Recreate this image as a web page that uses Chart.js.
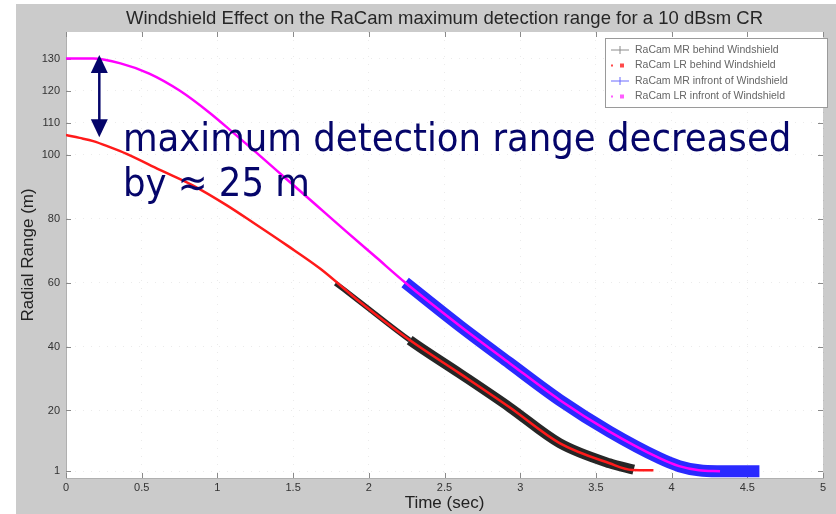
<!DOCTYPE html>
<html>
<head>
<meta charset="utf-8">
<script src="https://cdn.jsdelivr.net/npm/chart.js@4.4.1/dist/chart.umd.min.js"></script>
<style>
    html, body { margin: 0; padding: 0; background: #fff; }
    #wrap { width: 836px; height: 514px; }
</style>
</head>
<body>
<div id="wrap"><canvas id="windshield_chart" width="836" height="514"></canvas></div>
<script>
// values (time in sec, radial range in m)
var mr_behind_time = [1.78, 1.94, 2.27, 2.6, 2.93, 3.26, 3.59, 3.75]
var mr_behind_range = [59.8, 54, 42, 31.6, 21, 9.8, 3.5, 1.5]

var lr_behind_time = [0, 0.09, 0.18, 0.29, 0.4, 0.62, 0.84, 1.06, 1.24, 1.46, 1.68, 1.94, 2.27, 2.6, 2.93, 3.26, 3.59, 3.74, 3.88]
var lr_behind_range = [106.1, 105.2, 104.2, 102.3, 100.2, 95.2, 90.3, 84.2, 78.6, 71.6, 64.3, 54, 42, 31.6, 21, 9.8, 3.5, 1.4, 1.3]

var mr_infront_time = [2.24, 2.6, 2.93, 3.26, 3.59, 3.92, 4.05, 4.18, 4.3, 4.45, 4.58]
var mr_infront_range = [60, 46.5, 34.8, 23.3, 13.4, 5.1, 2.6, 1.3, 1, 1, 1]

var lr_infront_time = [0, 0.18, 0.36, 0.55, 0.75, 0.95, 1.1, 1.25, 1.45, 1.65, 1.85, 2.05, 2.24, 2.6, 2.93, 3.26, 3.59, 3.92, 4.05, 4.18, 4.32]
var lr_infront_range = [130, 130, 128.5, 125.3, 120, 113, 107, 100.9, 92.6, 84.3, 76, 67.8, 60, 46.5, 34.8, 23.3, 13.4, 5.1, 2.6, 1.3, 1]

var x_ticks = [0, 0.5, 1, 1.5, 2, 2.5, 3, 3.5, 4, 4.5, 5]
var y_ticks = [1, 20, 40, 60, 80, 100, 110, 120, 130]

var legend_labels = [
    'RaCam MR behind Windshield',
    'RaCam LR behind Windshield',
    'RaCam MR infront of Windshield',
    'RaCam LR infront of Windshield'
]

var note_lines = ['maximum detection range decreased', 'by \u2248 25 m']
var note_at = [0.376, 101]            // time, range of first line baseline
var arrow_at = [0.22, 131.1, 105.4]   // time, top range, bottom range

function toPoints(xs, ys) {
    return xs.map(function (x, i) { return { x: x, y: ys[i] } })
}

var NAVY = '#05056a'
var GRAY_BG = '#cbcbcb'
var AXIS_FONT = '"Liberation Sans", Arial, sans-serif'

var figureBackground = {
    id: 'figureBackground',
    beforeDraw: function (chart) {
        var ctx = chart.ctx, a = chart.chartArea
        ctx.save()
        ctx.fillStyle = '#fff'
        ctx.fillRect(0, 0, chart.width, chart.height)
        ctx.fillStyle = GRAY_BG
        ctx.fillRect(16, 4, chart.width - 16, chart.height - 4)
        ctx.fillStyle = '#fff'
        ctx.fillRect(a.left, a.top, a.right - a.left, a.bottom - a.top)
        ctx.restore()
    }
}

var innerTicks = {
    id: 'innerTicks',
    beforeDatasetsDraw: function (chart) {
        var ctx = chart.ctx, a = chart.chartArea
        var xs = chart.scales.x, ys = chart.scales.y
        ctx.save()
        ctx.strokeStyle = '#8a8a8a'
        ctx.lineWidth = 1
        ctx.beginPath()
        x_ticks.forEach(function (v) {
            var px = Math.round(xs.getPixelForValue(v)) + 0.5
            ctx.moveTo(px, a.bottom); ctx.lineTo(px, a.bottom - 5)
            ctx.moveTo(px, a.top); ctx.lineTo(px, a.top + 5)
        })
        y_ticks.forEach(function (v) {
            var py = Math.round(ys.getPixelForValue(v)) + 0.5
            ctx.moveTo(a.left, py); ctx.lineTo(a.left + 5, py)
            ctx.moveTo(a.right, py); ctx.lineTo(a.right - 5, py)
        })
        ctx.stroke()
        ctx.restore()
    }
}

var boxLegend = {
    id: 'boxLegend',
    afterDraw: function (chart) {
        var ctx = chart.ctx
        var left = 605, top = 38, w = 222, h = 69
        ctx.save()
        ctx.fillStyle = '#fff'
        ctx.fillRect(left, top, w, h)
        ctx.strokeStyle = '#9a9a9a'
        ctx.lineWidth = 1
        ctx.strokeRect(left + 0.5, top + 0.5, w, h)
        var colors = ['#8c8c8c', '#ff4a4a', '#6a6aff', '#ff5cff']
        ctx.font = '10.5px ' + AXIS_FONT
        ctx.textBaseline = 'middle'
        legend_labels.forEach(function (label, i) {
            var y = top + 12 + i * 15.5
            ctx.strokeStyle = colors[i]
            ctx.fillStyle = colors[i]
            if (i % 2 === 0) {
                ctx.lineWidth = 1
                ctx.beginPath()
                ctx.moveTo(left + 6, y); ctx.lineTo(left + 24, y)
                ctx.moveTo(left + 15, y - 4); ctx.lineTo(left + 15, y + 4)
                ctx.stroke()
            } else {
                ctx.fillRect(left + 6, y - 1, 2, 2)
                ctx.fillRect(left + 15, y - 2, 4, 4)
            }
            ctx.fillStyle = '#666'
            ctx.fillText(label, left + 30, y)
        })
        ctx.restore()
    }
}

var rangeNote = {
    id: 'rangeNote',
    afterDraw: function (chart) {
        var ctx = chart.ctx
        var xs = chart.scales.x, ys = chart.scales.y
        ctx.save()
        // double arrow
        var ax = xs.getPixelForValue(arrow_at[0])
        var top = ys.getPixelForValue(arrow_at[1])
        var bottom = ys.getPixelForValue(arrow_at[2])
        ctx.strokeStyle = NAVY
        ctx.fillStyle = NAVY
        ctx.lineWidth = 2.5
        ctx.beginPath()
        ctx.moveTo(ax, top + 10); ctx.lineTo(ax, bottom - 10)
        ctx.stroke()
        ctx.beginPath()
        ctx.moveTo(ax, top); ctx.lineTo(ax - 8.5, top + 18); ctx.lineTo(ax + 8.5, top + 18)
        ctx.closePath(); ctx.fill()
        ctx.beginPath()
        ctx.moveTo(ax, bottom); ctx.lineTo(ax - 8.5, bottom - 18); ctx.lineTo(ax + 8.5, bottom - 18)
        ctx.closePath(); ctx.fill()

        // text
        var fam = '"DejaVu Sans Condensed", "DejaVu Sans", sans-serif'
        ctx.font = '40px ' + fam
        var size = 40 * 668 / ctx.measureText(note_lines[0]).width
        ctx.font = size.toFixed(1) + 'px ' + fam
        ctx.textBaseline = 'alphabetic'
        var tx = xs.getPixelForValue(note_at[0])
        var ty = ys.getPixelForValue(note_at[1])
        ctx.fillText(note_lines[0], tx, ty)
        ctx.fillText(note_lines[1], tx, ty + 45)
        ctx.restore()
    }
}

var ctx_range = document.getElementById('windshield_chart').getContext('2d')
var range_chart = new Chart(ctx_range, {
    type: 'scatter',
    data: {
        datasets: [{
            label: legend_labels[0],
            data: toPoints(mr_behind_time, mr_behind_range),
            borderColor: 'rgba(20, 20, 20, .92)',
            borderWidth: 10,
            segment: {
                borderWidth: function (c) { return c.p0.parsed.x < 2.2 ? 5 : 10 }
            },
            order: 1
        }, {
            label: legend_labels[1],
            data: toPoints(lr_behind_time, lr_behind_range),
            borderColor: '#ff1a1a',
            borderWidth: 2.5,
            order: 0
        }, {
            label: legend_labels[2],
            data: toPoints(mr_infront_time, mr_infront_range),
            borderColor: '#2a2aff',
            borderWidth: 12,
            borderCapStyle: 'butt',
            order: 3
        }, {
            label: legend_labels[3],
            data: toPoints(lr_infront_time, lr_infront_range),
            borderColor: '#ff00ff',
            borderWidth: 2.5,
            order: 2
        }]
    },
    options: {
        responsive: false,
        animation: false,
        devicePixelRatio: 1,
        showLine: true,
        elements: {
            point: { radius: 0, hoverRadius: 0 },
            line: { cubicInterpolationMode: 'monotone', fill: false }
        },
        layout: { padding: { left: 0, right: 13, top: 0, bottom: 0 } },
        plugins: {
            legend: { display: false },
            tooltip: { enabled: false },
            title: {
                display: true,
                fullSize: false,
                text: 'Windshield Effect on the RaCam maximum detection range for a 10 dBsm CR',
                color: '#262626',
                font: { family: AXIS_FONT, size: 18.5, weight: 'normal' },
                padding: { top: 7.5, bottom: 2.3 }
            }
        },
        scales: {
            x: {
                type: 'linear',
                min: 0,
                max: 5,
                afterBuildTicks: function (axis) {
                    axis.ticks = x_ticks.map(function (v) { return { value: v } })
                },
                afterFit: function (scale) { scale.height = 36 },
                ticks: {
                    color: '#333',
                    padding: 3,
                    maxRotation: 0,
                    font: { family: AXIS_FONT, size: 11 },
                    callback: function (v) { return String(v) }
                },
                grid: { color: 'rgba(0, 0, 0, .08)', drawTicks: false },
                border: { color: '#b0b0b0', dash: [1, 7] },
                title: {
                    display: true,
                    text: 'Time (sec)',
                    color: '#222',
                    padding: { top: 0, bottom: 0 },
                    font: { family: AXIS_FONT, size: 17 }
                }
            },
            y: {
                type: 'linear',
                min: -1.1,
                max: 138.3,
                afterBuildTicks: function (axis) {
                    axis.ticks = y_ticks.map(function (v) { return { value: v } })
                },
                afterFit: function (scale) { scale.width = 66 },
                ticks: {
                    color: '#333',
                    padding: 6,
                    font: { family: AXIS_FONT, size: 11 },
                    callback: function (v) { return String(v) }
                },
                grid: { color: 'rgba(0, 0, 0, .08)', drawTicks: false },
                border: { color: '#b0b0b0', dash: [1, 7] },
                title: {
                    display: true,
                    text: 'Radial Range (m)',
                    color: '#222',
                    padding: { top: 18, bottom: 0 },
                    font: { family: AXIS_FONT, size: 17 }
                }
            }
        }
    },
    plugins: [figureBackground, innerTicks, boxLegend, rangeNote]
})
</script>
</body>
</html>
